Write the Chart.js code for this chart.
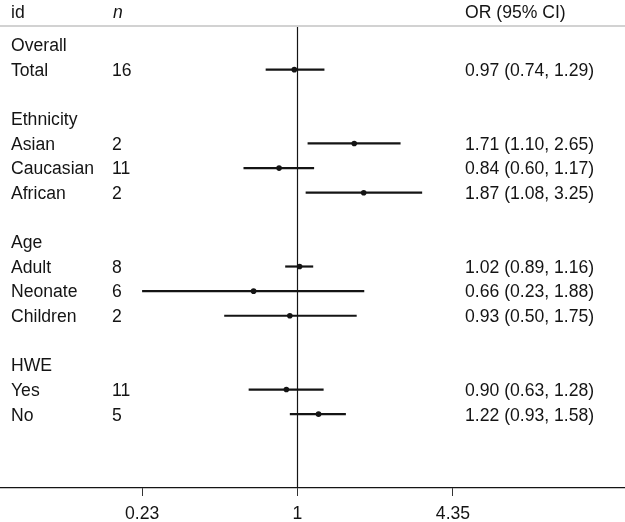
<!DOCTYPE html>
<html>
<head>
<meta charset="utf-8">
<script src="https://cdn.jsdelivr.net/npm/chart.js@4/dist/chart.umd.min.js"></script>
<style>
  html, body { margin: 0; padding: 0; background: #ffffff; }
  #wrap { width: 625px; height: 522px; }
</style>
</head>
<body>
<div id="wrap"><canvas id="c" width="625" height="522"></canvas></div>
<script>
// ---- data (row index = array index; '' rows are spacers) ----
const rowLabels = ['Overall', 'Total', '', 'Ethnicity', 'Asian', 'Caucasian', 'African', '',
                   'Age', 'Adult', 'Neonate', 'Children', '', 'HWE', 'Yes', 'No'];
const nValues   = [null, 16, null, null, 2, 11, 2, null, null, 8, 6, 2, null, null, 11, 5];
const orValues  = [null, 0.97, null, null, 1.71, 0.84, 1.87, null, null, 1.02, 0.66, 0.93, null, null, 0.90, 1.22];
const ciLow     = [null, 0.74, null, null, 1.10, 0.60, 1.08, null, null, 0.89, 0.23, 0.50, null, null, 0.63, 0.93];
const ciHigh    = [null, 1.29, null, null, 2.65, 1.17, 3.25, null, null, 1.16, 1.88, 1.75, null, null, 1.28, 1.58];
const xTicks    = [0.23, 1, 4.35];
const headers   = ['id', 'n', 'OR (95% CI)'];

const FONT = '"Liberation Sans", Arial, Helvetica, sans-serif';
const FSIZE = 17.6;
const INK = '#141414';

const pointData = [];
const ciSets = [];
orValues.forEach((v, i) => {
  if (v === null) return;
  pointData.push({ x: v, y: i });
  ciSets.push({
    type: 'scatter',
    data: [{ x: ciLow[i], y: i }, { x: ciHigh[i], y: i }],
    showLine: true,
    borderColor: INK,
    borderWidth: 2.2,
    pointRadius: 0,
    pointHoverRadius: 0,
    order: 2
  });
});

const tablePlugin = {
  id: 'forestTable',
  afterDraw(chart) {
    const ctx = chart.ctx;
    const xs = chart.scales.x, ys = chart.scales.y;
    const area = chart.chartArea;
    ctx.save();
    // header separator
    const sepY = ys.getPixelForValue(-0.77);
    ctx.strokeStyle = '#d2d2d2';
    ctx.lineWidth = 2;
    ctx.beginPath();
    ctx.moveTo(0, sepY); ctx.lineTo(chart.width, sepY);
    ctx.stroke();
    // reference line at OR = 1
    const x1 = Math.round(xs.getPixelForValue(1)) - 0.5;
    ctx.strokeStyle = INK;
    ctx.lineWidth = 1.2;
    ctx.beginPath();
    ctx.moveTo(x1, sepY + 1); ctx.lineTo(x1, area.bottom);
    ctx.stroke();

    ctx.fillStyle = INK;
    ctx.textBaseline = 'middle';
    ctx.textAlign = 'left';
    // headers
    const hy = ys.getPixelForValue(-1.28);
    ctx.font = FSIZE + 'px ' + FONT;
    ctx.fillText(headers[0], 11, hy);
    ctx.fillText(headers[2], 465, hy);
    ctx.font = 'italic ' + FSIZE + 'px ' + FONT;
    ctx.fillText(headers[1], 113, hy);
    // rows
    ctx.font = FSIZE + 'px ' + FONT;
    rowLabels.forEach((lab, i) => {
      const y = ys.getPixelForValue(i) + 1.5;
      if (lab) ctx.fillText(lab, 11, y);
      if (nValues[i] !== null) ctx.fillText(String(nValues[i]), 112, y);
      if (orValues[i] !== null) {
        const txt = orValues[i].toFixed(2) + ' (' + ciLow[i].toFixed(2) + ', ' + ciHigh[i].toFixed(2) + ')';
        ctx.fillText(txt, 465, y);
      }
    });
    ctx.restore();
  }
};

new Chart(document.getElementById('c'), {
  type: 'scatter',
  data: {
    datasets: [
      {
        data: pointData,
        backgroundColor: INK,
        borderColor: INK,
        pointRadius: 2.8,
        pointHoverRadius: 2.8,
        borderWidth: 0,
        order: 1
      },
      ...ciSets
    ]
  },
  options: {
    responsive: false,
    animation: false,
    devicePixelRatio: 1,
    layout: { padding: 0, autoPadding: false },
    plugins: { legend: { display: false }, tooltip: { enabled: false } },
    events: [],
    scales: {
      x: {
        type: 'logarithmic',
        position: 'bottom',
        min: 0.06,
        max: 22.13,
        bounds: 'data',
        afterBuildTicks: (s) => { s.ticks = xTicks.map(v => ({ value: v })); },
        afterFit: (s) => { s.height = 34; },
        grid: { display: true, drawOnChartArea: false, drawTicks: true, tickLength: 8, color: '#333', lineWidth: 1 },
        border: { display: true, color: INK, width: 1.2 },
        ticks: {
          color: INK,
          padding: 8,
          maxRotation: 0,
          autoSkip: false,
          font: { family: FONT, size: FSIZE },
          callback: (v) => String(v)
        }
      },
      y: {
        type: 'linear',
        display: false,
        reverse: true,
        min: -1.83,
        max: 18,
        bounds: 'data'
      }
    }
  },
  plugins: [tablePlugin]
});
</script>
</body>
</html>
